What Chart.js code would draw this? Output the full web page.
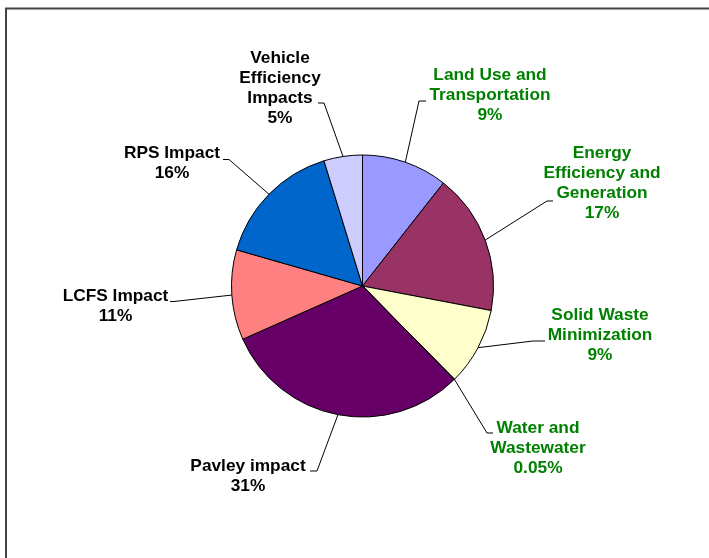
<!DOCTYPE html>
<html>
<head>
<meta charset="utf-8">
<script src="https://cdn.jsdelivr.net/npm/chart.js@4/dist/chart.umd.min.js"></script>
<style>
  html, body { margin: 0; padding: 0; background: #fff; }
  #wrap { width: 709px; height: 558px; }
</style>
</head>
<body>
<div id="wrap"><canvas id="pieChart" width="709" height="558"></canvas></div>
<script>
// category names, one entry per text line
var categories = [
    ['Land Use and', 'Transportation'],
    ['Energy', 'Efficiency and', 'Generation'],
    ['Solid Waste', 'Minimization'],
    ['Water and', 'Wastewater'],
    ['Pavley impact'],
    ['LCFS Impact'],
    ['RPS Impact'],
    ['Vehicle', 'Efficiency', 'Impacts']
];
// slice sizes
var shares = [10.6, 17.4, 9.6, 0.05, 30.7, 11.1, 15.8, 4.75];
// percentage text printed on the labels
var percentLabels = ['9%', '17%', '9%', '0.05%', '31%', '11%', '16%', '5%'];

var sliceColors = ['#9999FF', '#993366', '#FFFFCC', '#CCFFFF', '#660066', '#FF8080', '#0066CC', '#CCCCFF'];
var green = '#008000';
var labelColors = [green, green, green, green, '#000', '#000', '#000', '#000'];

// where each label sits: text centre x, first baseline y, leader elbow and tick end
var labelLayout = [
    { cx: 490, y: 80, ex: 419, ey: 101, tx: 426 },
    { cx: 602, y: 158, ex: 547, ey: 201, tx: 553 },
    { cx: 600, y: 320, ex: 533, ey: 341, tx: 545 },
    { cx: 538, y: 433, ex: 487, ey: 433, tx: 493 },
    { cx: 248, y: 471, ex: 317, ey: 471, tx: 310 },
    { cx: 115.5, y: 301, ex: 174, ey: 301.5, tx: 170 },
    { cx: 172, y: 158, ex: 229, ey: 159.5, tx: 223 },
    { cx: 280, y: 63, ex: 324, ey: 103, tx: 318 }
];
var lineH = 20;

var framePlugin = {
    id: 'frame',
    beforeDraw: function(chart) {
        var c = chart.ctx;
        c.save();
        c.strokeStyle = '#444';
        c.lineWidth = 2;
        c.beginPath();
        c.moveTo(6, 558);
        c.lineTo(6, 8.5);
        c.lineTo(709, 8.5);
        c.stroke();
        c.restore();
    }
};

var labelPlugin = {
    id: 'pieLabels',
    afterDraw: function(chart) {
        var c = chart.ctx;
        var arcs = chart.getDatasetMeta(0).data;
        c.save();
        arcs.forEach(function(arc, i) {
            var p = arc.getProps(['x', 'y', 'startAngle', 'endAngle', 'outerRadius'], true);
            var mid = (p.startAngle + p.endAngle) / 2;
            var sx = p.x + Math.cos(mid) * p.outerRadius;
            var sy = p.y + Math.sin(mid) * p.outerRadius;
            var L = labelLayout[i];
            c.strokeStyle = '#000';
            c.lineWidth = 1;
            c.beginPath();
            c.moveTo(sx, sy);
            c.lineTo(L.ex, L.ey);
            c.lineTo(L.tx, L.ey);
            c.stroke();

            var lines = categories[i].concat([percentLabels[i]]);
            c.fillStyle = labelColors[i];
            c.font = 'bold 17.3px "Liberation Sans", Arial, sans-serif';
            c.textAlign = 'center';
            c.textBaseline = 'alphabetic';
            lines.forEach(function(t, k) {
                c.fillText(t, L.cx, L.y + k * lineH);
            });
        });
        c.restore();
    }
};

var ctx = document.getElementById('pieChart').getContext('2d');
var myChart = new Chart(ctx, {
    type: 'pie',
    data: {
        labels: categories.map(function(l) { return l.join(' '); }),
        datasets: [{
            data: shares,
            backgroundColor: sliceColors,
            borderColor: '#000',
            borderWidth: 1
        }]
    },
    options: {
        responsive: false,
        animation: false,
        layout: { padding: { left: 231, right: 215, top: 154.5, bottom: 140.5 } },
        plugins: {
            legend: { display: false },
            tooltip: { enabled: false }
        }
    },
    plugins: [framePlugin, labelPlugin]
});
</script>
</body>
</html>
